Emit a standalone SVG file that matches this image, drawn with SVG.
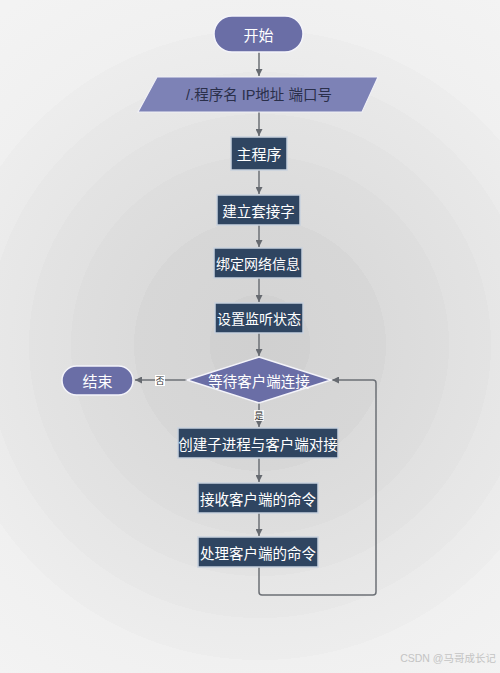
<svg xmlns="http://www.w3.org/2000/svg" width="500" height="673" viewBox="0 0 500 673">
<defs>
<radialGradient id="bg" gradientUnits="userSpaceOnUse" cx="260" cy="345" r="420">
<stop offset="0" stop-color="#d0d0d0"/>
<stop offset="0.12" stop-color="#d1d1d1"/>
<stop offset="0.12" stop-color="#d5d5d5"/>
<stop offset="0.3" stop-color="#d7d7d7"/>
<stop offset="0.3" stop-color="#dbdbdb"/>
<stop offset="0.45" stop-color="#dedede"/>
<stop offset="0.45" stop-color="#e1e1e1"/>
<stop offset="0.55" stop-color="#e3e3e3"/>
<stop offset="0.55" stop-color="#e6e6e6"/>
<stop offset="0.65" stop-color="#e8e8e8"/>
<stop offset="0.65" stop-color="#ebebeb"/>
<stop offset="0.75" stop-color="#ededed"/>
<stop offset="0.75" stop-color="#f0f0f0"/>
<stop offset="1" stop-color="#f3f3f3"/>
</radialGradient>
<marker id="arr" viewBox="0 0 10 10" refX="10" refY="5" markerWidth="7" markerHeight="7" orient="auto" markerUnits="userSpaceOnUse">
<path d="M0,0 L10,5 L0,10 z" fill="#666a70"/>
</marker>
</defs>
<style>
.term{fill:#6a6ea6;stroke:#f4f4fa;stroke-width:1.5}
.io{fill:#7d82b6;stroke:#f0f0f6;stroke-width:1.2}
.proc{fill:#2f4561;stroke:#c9d2de;stroke-width:1.5}
.dec{fill:#6a6ea6;stroke:#f4f4fa;stroke-width:1.5}
.t{font-family:"Noto Sans CJK SC","Liberation Sans",sans-serif;fill:#ffffff;text-anchor:middle;dominant-baseline:central}
.tdark{font-family:"Liberation Sans","Noto Sans CJK SC",sans-serif;fill:#2a2f4a;text-anchor:middle;dominant-baseline:central}
.ln{fill:none;stroke:#6c7076;stroke-width:1.5}
.lbl{font-family:"Noto Sans CJK SC",sans-serif;font-size:9px;fill:#333;text-anchor:middle;dominant-baseline:central}
</style>
<rect width="500" height="673" fill="url(#bg)"/>

<g id="connectors">
<line class="ln" x1="259" y1="52" x2="259" y2="76" marker-end="url(#arr)"/>
<line class="ln" x1="259" y1="112" x2="259" y2="136" marker-end="url(#arr)"/>
<line class="ln" x1="259" y1="170" x2="259" y2="194" marker-end="url(#arr)"/>
<line class="ln" x1="259" y1="225" x2="259" y2="247" marker-end="url(#arr)"/>
<line class="ln" x1="259" y1="278" x2="259" y2="302" marker-end="url(#arr)"/>
<line class="ln" x1="259" y1="333" x2="259" y2="356" marker-end="url(#arr)"/>
<line class="ln" x1="259" y1="403" x2="259" y2="427" marker-end="url(#arr)"/>
<line class="ln" x1="187" y1="380" x2="135" y2="380" marker-end="url(#arr)"/>
<line class="ln" x1="259" y1="458" x2="259" y2="482" marker-end="url(#arr)"/>
<line class="ln" x1="259" y1="513" x2="259" y2="536" marker-end="url(#arr)"/>
<path class="ln" d="M259,567 L259,592 Q259,595 262,595 L373,595 Q376,595 376,592 L376,383 Q376,380 373,380 L332,380" marker-end="url(#arr)"/>
<rect x="254" y="410" width="10" height="11" fill="#f4f4f4"/>
<text class="lbl" x="259" y="415.5">是</text>
<rect x="155" y="375" width="10" height="11" fill="#ffffff"/>
<text class="lbl" x="160" y="380.5">否</text>
</g>

<g id="start">
<rect class="term" x="214" y="16" width="89" height="36" rx="18"/>
<text class="t" x="258.5" y="34" font-size="15">开始</text>
</g>

<g id="input">
<polygon class="io" points="157,77 378,77 362,112 138,112"/>
<text class="tdark" x="259" y="95" font-size="14.5">/.程序名 IP地址 端口号</text>
</g>

<g id="main">
<rect class="proc" x="231" y="137" width="56" height="33"/>
<text class="t" x="259" y="153.5" font-size="15">主程序</text>
</g>

<g id="socket">
<rect class="proc" x="217" y="195" width="83" height="30"/>
<text class="t" x="258.5" y="210" font-size="14.5">建立套接字</text>
</g>

<g id="bind">
<rect class="proc" x="214" y="248" width="88" height="30"/>
<text class="t" x="258" y="263" font-size="14">绑定网络信息</text>
</g>

<g id="listen">
<rect class="proc" x="215" y="303" width="88" height="30"/>
<text class="t" x="259" y="318" font-size="14">设置监听状态</text>
</g>

<g id="wait">
<polygon class="dec" points="259,357 331,380 259,403 187,380"/>
<text class="t" x="259" y="380" font-size="14.5">等待客户端连接</text>
</g>

<g id="end">
<rect class="term" x="62" y="366" width="71" height="29" rx="14.5"/>
<text class="t" x="97.5" y="380.5" font-size="15">结束</text>
</g>

<g id="fork">
<rect class="proc" x="178" y="428" width="160" height="30"/>
<text class="t" x="258" y="443" font-size="14.5">创建子进程与客户端对接</text>
</g>

<g id="recv">
<rect class="proc" x="198" y="483" width="120" height="30"/>
<text class="t" x="258" y="498" font-size="14.5">接收客户端的命令</text>
</g>

<g id="handle">
<rect class="proc" x="198" y="537" width="120" height="30"/>
<text class="t" x="258" y="552" font-size="14.5">处理客户端的命令</text>
</g>

<text x="496" y="662" font-family="Liberation Sans,'Noto Sans CJK SC',sans-serif" font-size="10.5" fill="#c4c4c4" text-anchor="end">CSDN @马哥成长记</text>
</svg>
